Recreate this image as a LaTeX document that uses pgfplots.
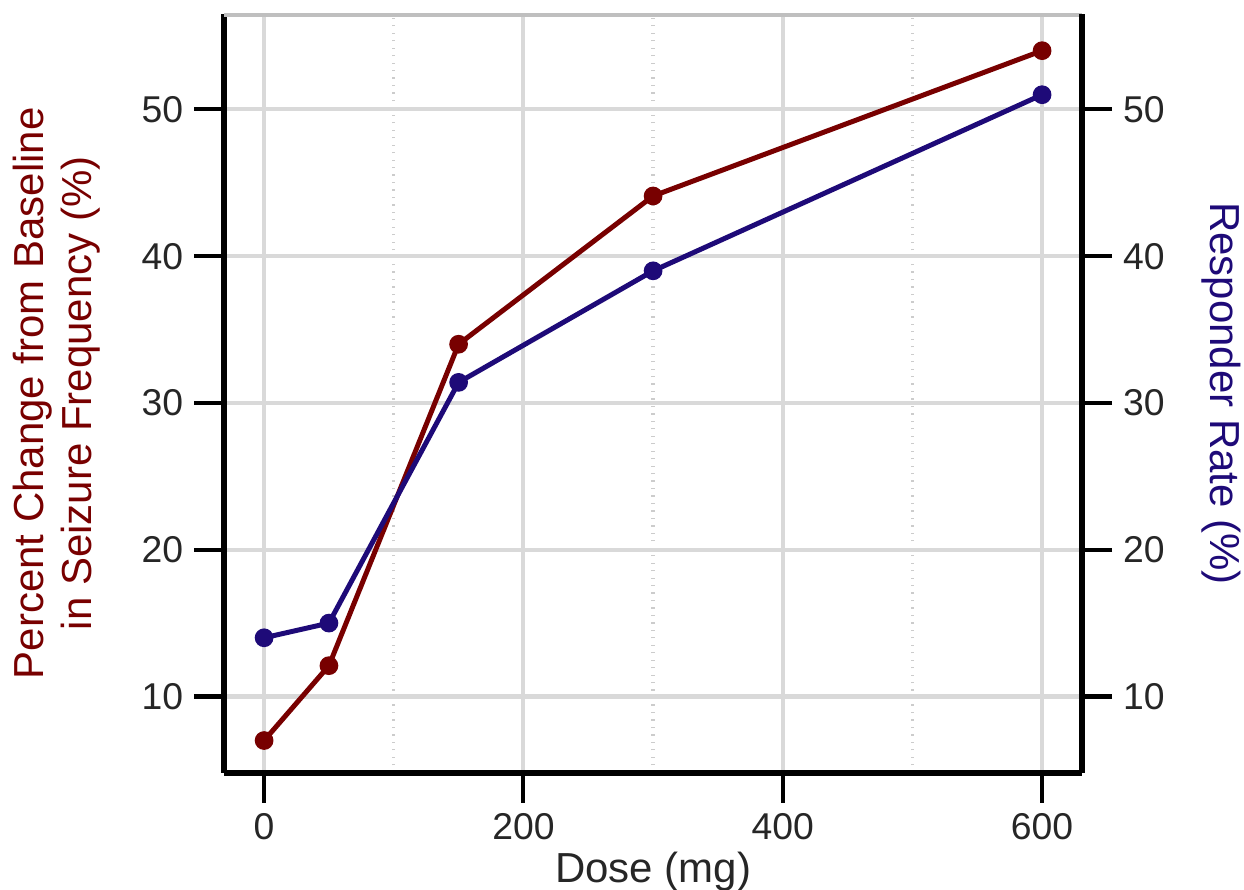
\documentclass[border=0pt]{standalone}
\usepackage{fontspec}
\setmainfont{Liberation Sans}
\usepackage{pgfplots}
\pgfplotsset{compat=1.18}
\definecolor{dred}{RGB}{120,0,0}
\definecolor{dblue}{RGB}{30,10,120}

\pgfplotsset{
  common/.style={
    scale only axis, width=276pt, height=244pt,
    xmin=-31, xmax=631, ymin=4.8, ymax=56.5,
    ytick={10,20,30,40,50},
    tick align=outside, major tick length=9.6pt,
    tick style={black, line width=1.3pt},
    axis line style={line width=2pt, -},
    /pgf/number format/assume math mode=true,
    tick label style={font=\fontsize{12}{14}\selectfont, text=black!85},
    label style={font=\fontsize{13.5}{15.5}\selectfont},
  }
}

\begin{document}
\begin{tikzpicture}
\begin{axis}[
  common,
  axis x line*=bottom, axis y line*=left,
  xtick={0,200,400,600}, minor xtick={100,300,500},
  minor tick length=0pt,
  grid=both,
  major grid style={black!15, line width=1.3pt},
  minor grid style={black!20, dotted, line width=1.1pt},
  xlabel={Dose (mg)},
  ylabel={Percent Change from Baseline\\in Seizure Frequency (\%)},
  ylabel style={align=center, text=dred, yshift=6.5pt},
  xlabel style={text=black!85, yshift=3pt},
]
\draw[black!25, line width=2pt] (rel axis cs:0,1) -- (rel axis cs:1,1);
\addplot[dred, line width=1.6pt, mark=*, mark size=2.2pt] coordinates {
  (0, 7.0) (50, 12.1) (150, 34.0) (300, 44.1) (600, 54.0)
};
\end{axis}
\begin{axis}[
  common,
  axis x line=none, axis y line*=right,
  ylabel={Responder Rate (\%)},
  ylabel style={text=dblue, rotate=180, yshift=5pt},
]
\addplot[dblue, line width=1.6pt, mark=*, mark size=2.2pt] coordinates {
  (0, 14.0) (50, 15.0) (150, 31.4) (300, 39.0) (600, 51.0)
};
\end{axis}
\pgfresetboundingbox
\useasboundingbox (-72pt,-37.6pt) rectangle (328pt,248.5pt);
\end{tikzpicture}
\end{document}
